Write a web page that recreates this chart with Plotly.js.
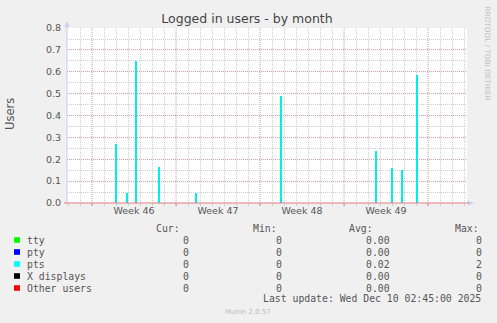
<!DOCTYPE html>
<html>
<head>
<meta charset="utf-8">
<script src="https://cdn.plot.ly/plotly-3.0.1.min.js"></script>
<style>
html,body{margin:0;padding:0;background:#f0f0f0;}
#chart{width:497px;height:323px;}
</style>
</head>
<body>
<div id="chart"></div>
<script>
// ---- data ----
var ptsTimes = ['2025-11-12 00:36','2025-11-12 21:24','2025-11-13 16:00','2025-11-15 14:36','2025-11-18 16:36',
                '2025-11-25 18:36','2025-12-03 16:36','2025-12-04 23:24','2025-12-05 20:36','2025-12-07 02:00'];
var ptsValues = [0.27, 0.045, 0.65, 0.166, 0.045, 0.49, 0.24, 0.16, 0.15, 0.585];
var weekTickDates = ['2025-11-13 12:00','2025-11-20 12:00','2025-11-27 12:00','2025-12-04 12:00'];
var weekTickLabels = ['Week 46','Week 47','Week 48','Week 49'];
var weekStarts = ['2025-11-10','2025-11-17','2025-11-24','2025-12-01','2025-12-08'];
var seriesNames = ['tty','pty','pts','X displays','Other users'];
var seriesColors = ['#00ff00','#0000ff','#00ffff','#000000','#ff0000'];
var curVals = ['0','0','0','0','0'];
var minVals = ['0','0','0','0','0'];
var avgVals = ['0.00','0.00','0.02','0.00','0.00'];
var maxVals = ['0','0','2','0','0'];
var lastUpdate = 'Last update: Wed Dec 10 02:45:00 2025';

// ---- layout helpers (pixel -> paper) ----
var L = 67, R = 467, T = 28, B = 203;
function px(x){ return (x - L) / (R - L); }
function py(y){ return (B - y) / (B - T); }

var mono = {family:'DejaVu Sans Mono', size:9.8, color:'#555'};
var ann = [];
function addText(text, x, y, anchor, font, extra){
  var a = {text:text, xref:'paper', yref:'paper', x:px(x), y:py(y), xanchor:anchor, yanchor:'middle',
           showarrow:false, font:font, borderpad:0};
  if (extra) for (var k in extra) a[k] = extra[k];
  ann.push(a);
}
addText('Cur:', 180.5, 228.5, 'right', mono);
addText('Min:', 278, 228.5, 'right', mono);
addText('Avg:', 374, 228.5, 'right', mono);
addText('Max:', 479.5, 228.5, 'right', mono);
var shapes = [];
for (var i = 0; i < seriesNames.length; i++) {
  var yy = 240 + i * 12;
  addText(seriesNames[i], 26, yy, 'left', mono);
  addText(curVals[i], 189.5, yy, 'right', mono);
  addText(minVals[i], 282.5, yy, 'right', mono);
  addText(avgVals[i], 391, yy, 'right', mono);
  addText(maxVals[i], 482.5, yy, 'right', mono);
  shapes.push({type:'rect', xref:'paper', yref:'paper', x0:px(14), x1:px(20), y0:py(yy+2.8), y1:py(yy-2.8),
               fillcolor:seriesColors[i], line:{width:0}});
}
addText(lastUpdate, 261.5, 298.5, 'left', mono);
addText('Munin 2.0.57', 247.5, 312, 'center', {family:'DejaVu Sans', size:7, color:'#bbb'});
addText('RRDTOOL / TOBI OETIKER', 487.5, 53, 'center', {family:'DejaVu Sans', size:7.3, color:'#c0c0c0'}, {textangle:90});
addText('Users', 10, 114, 'center', {family:'DejaVu Sans', size:11.5, color:'#555'}, {textangle:-90});

// week boundary (major) grid lines and ticks
for (var j = 0; j < weekStarts.length; j++) {
  shapes.push({type:'line', xref:'x', yref:'paper', x0:weekStarts[j], x1:weekStarts[j], y0:0, y1:1.003,
               line:{color:'#e49a9a', width:1, dash:'1px,1px'}, layer:'below'});
  shapes.push({type:'line', xref:'x', yref:'paper', x0:weekStarts[j], x1:weekStarts[j], y0:py(203), y1:py(206),
               line:{color:'#e08a8a', width:1}});
}
// axis arrows
shapes.push({type:'path', xref:'paper', yref:'paper',
  path:'M '+px(64.5)+' '+py(27)+' L '+px(67)+' '+py(21)+' L '+px(69.5)+' '+py(27)+' Z',
  fillcolor:'#ccccf4', line:{width:0}});
shapes.push({type:'path', xref:'paper', yref:'paper',
  path:'M '+px(468)+' '+py(200.5)+' L '+px(474)+' '+py(203)+' L '+px(468)+' '+py(205.5)+' Z',
  fillcolor:'#ccccf4', line:{width:0}});
// axis lines
shapes.push({type:'line', xref:'paper', yref:'paper', x0:px(67), x1:px(67), y0:py(204), y1:py(26),
  line:{color:'#ccccf0', width:1}});
shapes.push({type:'line', xref:'paper', yref:'paper', x0:px(64), x1:px(469), y0:py(203), y1:py(203),
  line:{color:'#e07c7c', width:1}});

var traces = [{
  type:'bar', name:'pts', x:ptsTimes, y:ptsValues, width:4*3600*1000,
  marker:{color:'#00eef0', line:{width:0}}, hoverinfo:'skip'
}];

var layout = {
  width:497, height:323,
  margin:{l:L, r:497-R, t:T, b:323-B, pad:0},
  paper_bgcolor:'#f0f0f0', plot_bgcolor:'#ffffff',
  showlegend:false,
  title:{text:'Logged in users - by month', x:0.497, xanchor:'center', y:0.943, yanchor:'middle',
         font:{family:'DejaVu Sans', size:12.5, color:'#444'}},
  font:{family:'DejaVu Sans', size:9.5, color:'#555'},
  bargap:0,
  xaxis:{type:'date', range:['2025-11-07 22:00','2025-12-11 06:00'], tickmode:'array',
         tickvals:weekTickDates, ticktext:weekTickLabels, showgrid:false, zeroline:false, showline:false,
         ticks:'', fixedrange:true, tickfont:{family:'DejaVu Sans', size:9.5, color:'#555'},
         minor:{dtick:86400000, tick0:'2025-11-10', showgrid:true, gridcolor:'#cfcfcf', griddash:'1px,1px',
                ticks:'outside', ticklen:2, tickcolor:'#cccccc'}},
  yaxis:{range:[0,0.8004], dtick:0.1, tick0:0, tickformat:'.1f', showgrid:true, gridcolor:'#e49a9a',
         griddash:'1px,1px', zeroline:false, showline:false, ticks:'', ticklabelstandoff:5, fixedrange:true,
         tickfont:{family:'DejaVu Sans', size:9.5, color:'#555'},
         minor:{dtick:0.05, showgrid:true, gridcolor:'#cfcfcf', griddash:'1px,1px'}},
  shapes:shapes, annotations:ann
};
Plotly.newPlot('chart', traces, layout, {staticPlot:true, displayModeBar:false});
</script>
</body>
</html>
